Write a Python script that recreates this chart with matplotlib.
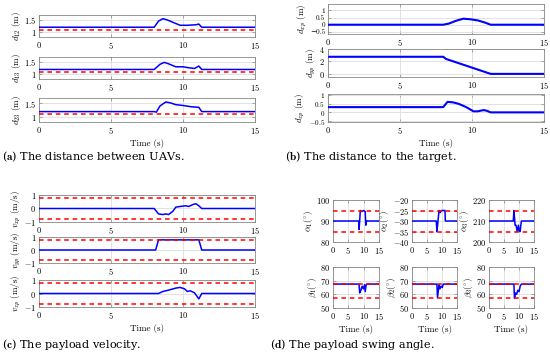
import numpy as np
import matplotlib
matplotlib.use("Agg")
import matplotlib.pyplot as plt
from matplotlib.ticker import FuncFormatter

plt.rcParams['font.family'] = 'serif'
plt.rcParams['font.serif'] = ['cmr10', 'DejaVu Serif']
plt.rcParams['mathtext.fontset'] = 'cm'
plt.rcParams['axes.formatter.use_mathtext'] = True
plt.rcParams['axes.unicode_minus'] = True

# ---- data ----
# (a) distances between UAVs
t_d12 = [0, 8.0, 8.3, 8.6, 8.9, 9.3, 9.8, 10.3, 10.9, 11.1, 11.3, 15]
d12 = [1.2, 1.2, 1.45, 1.55, 1.5, 1.4, 1.28, 1.28, 1.3, 1.33, 1.2, 1.2]
t_d13 = [0, 8.0, 8.4, 8.7, 9.0, 9.5, 10.0, 10.4, 10.8, 11.1, 11.3, 15]
d13 = [1.19, 1.19, 1.4, 1.48, 1.42, 1.3, 1.3, 1.26, 1.23, 1.33, 1.19, 1.19]
t_d23 = [0, 8.0, 8.15, 8.4, 8.8, 9.1, 9.5, 10.0, 10.6, 11.1, 11.3, 15]
d23 = [1.19, 1.19, 1.17, 1.4, 1.55, 1.52, 1.45, 1.42, 1.37, 1.35, 1.19, 1.19]
d_min = 1.1

# (b) distance to the target
t_dxp = [0, 8.0, 8.4, 8.9, 9.4, 9.9, 10.4, 10.9, 11.3, 15]
dxp = [0, 0, 0.08, 0.28, 0.42, 0.38, 0.3, 0.15, 0.0, 0.0]
t_dyp = [0, 8.0, 8.2, 11.3, 15]
dyp = [2.75, 2.75, 2.4, 0.0, 0.0]
t_dzp = [0, 8.0, 8.3, 8.7, 9.1, 9.6, 10.1, 10.4, 10.8, 11.0, 11.3, 15]
dzp = [0.3, 0.3, 0.6, 0.57, 0.48, 0.3, 0.06, 0.06, 0.13, 0.1, 0.0, 0.0]

# (c) payload velocity
t_vxp = [0, 8.0, 8.3, 8.6, 8.8, 9.0, 9.3, 9.5, 9.8, 10.2, 10.4, 10.7, 10.9, 11.1, 11.3, 15]
vxp = [0, 0, -0.4, -0.45, -0.4, -0.45, -0.2, 0.1, 0.15, 0.2, 0.15, 0.3, 0.35, 0.2, 0.0, 0.0]
t_vyp = [0, 8.1, 8.3, 11.1, 11.3, 15]
vyp = [0, 0, 0.78, 0.78, 0.0, 0.0]
t_vzp = [0, 8.3, 8.6, 9.0, 9.5, 9.8, 10.1, 10.3, 10.5, 10.8, 11.1, 11.3, 15]
vzp = [0, 0, 0.15, 0.25, 0.4, 0.45, 0.35, 0.15, 0.2, 0.05, -0.4, 0.0, 0.0]
v_max = 0.75

# (d) payload swing angles
t_a1 = [0, 8.4, 8.5, 8.7, 8.9, 9.5, 10.0, 10.5, 10.7, 10.9, 11.0, 15]
a1 = [90, 90, 86, 90, 95, 94.5, 95, 94.5, 88, 90, 90, 90]
t_a2 = [0, 8.1, 8.3, 8.6, 9.0, 9.4, 9.8, 11.0, 11.1, 15]
a2 = [-30, -30, -35, -31, -25, -26, -25, -25, -30, -30]
t_a3 = [0, 8.1, 8.3, 8.7, 9.0, 9.4, 9.8, 10.1, 10.4, 10.6, 10.8, 15]
a3 = [210, 210, 215, 208, 208, 205, 208, 205, 205, 208, 210, 210]
t_b1 = [0, 8.5, 8.7, 9.1, 9.5, 9.9, 10.3, 10.5, 10.8, 11.0, 15]
b1 = [67.5, 67.5, 61, 63, 66, 64, 67, 62, 67, 67.5, 67.5]
t_b2 = [0, 8.3, 8.5, 9.0, 9.3, 9.7, 10.1, 10.4, 15]
b2 = [67.5, 67.5, 57.5, 67, 64, 66, 65, 67.5, 67.5]
t_b3 = [0, 8.3, 8.5, 8.8, 9.2, 9.6, 10.0, 10.4, 10.8, 15]
b3 = [67.5, 67.5, 57, 61, 60, 63, 62, 66, 67.5, 67.5]
alpha_bounds = [(85, 95), (-35, -25), (205, 215)]
beta_bounds = (57.5, 67.5)

W, H = 550, 358
fig = plt.figure(figsize=(W / 100, H / 100), dpi=100)

# MATLAB-like tick labels: 1 instead of 1.0, proper minus sign
fmt = FuncFormatter(lambda v, _: r'$%g$' % v)
# plain-text variant for the crowded axis (tighter boxes than mathtext)
fmt_plain = FuncFormatter(lambda v, _: ('%g' % v).replace('-', '\u2212'))


def ax_px(x0, y0, x1, y1):
    return fig.add_axes([x0 / W, 1 - y1 / H, (x1 - x0) / W, (y1 - y0) / H])


def style(ax, ylim, yticks, ylabel, ysize=6):
    ax.set_xlim(0, 15)
    ax.set_ylim(*ylim)
    ax.set_xticks([0, 5, 10, 15])
    ax.set_yticks(yticks)
    ax.xaxis.set_major_formatter(fmt)
    ax.yaxis.set_major_formatter(fmt)
    ax.grid(True, color='#dddddd', linewidth=0.6)
    ax.set_axisbelow(True)
    for s in ax.spines.values():
        s.set_color('#888888')
        s.set_linewidth(0.6)
    ax.tick_params(direction='in', length=2, width=0.5, color='#888888',
                   labelsize=6, pad=2, top=True, right=True)
    ax.tick_params(axis='y', labelsize=ysize)
    ax.set_ylabel(ylabel, fontsize=6.5, labelpad=1)


BLUE = '#0000ff'
RED = '#ff0000'


def blue(ax, t, y, lw=1.1):
    ax.plot(t, y, color=BLUE, lw=lw, zorder=3)


def red(ax, y):
    ax.axhline(y, color=RED, lw=1.1, ls=(0, (3, 2.5)), zorder=4)


# (a)
rows_a = [(15, 37), (57, 79), (98, 122)]
series_a = [(t_d12, d12, r'$d_{12}\ (\mathrm{m})$'),
            (t_d13, d13, r'$d_{13}\ (\mathrm{m})$'),
            (t_d23, d23, r'$d_{23}\ (\mathrm{m})$')]
for (y0, y1), (t, y, lab) in zip(rows_a, series_a):
    ax = ax_px(39, y0, 255, y1)
    style(ax, (0.8, 1.7), [1, 1.5], lab)
    blue(ax, t, y)
    red(ax, d_min)
ax.set_xlabel('Time (s)', fontsize=6.5, labelpad=2)

# (b)
rows_b = [(4, 34), (49, 77), (94, 122)]
series_b = [(t_dxp, dxp, r'$d_{xp}\ (\mathrm{m})$', (-0.65, 1.45), [-0.5, 0, 0.5, 1], 5.2),
            (t_dyp, dyp, r'$d_{yp}\ (\mathrm{m})$', (-0.5, 4), [0, 2, 4], 6),
            (t_dzp, dzp, r'$d_{zp}\ (\mathrm{m})$', (-0.55, 1.05), [-0.5, 0, 0.5, 1], 5.2)]
for i, ((y0, y1), (t, y, lab, yl, yt, ys)) in enumerate(zip(rows_b, series_b)):
    ax = ax_px(328, y0, 544, y1)
    style(ax, yl, yt, lab, ysize=ys)
    if i == 0:
        ax.yaxis.set_major_formatter(fmt_plain)
        for tl in ax.get_yticklabels():
            tl.set_family(['cmr10', 'DejaVu Serif'])
    blue(ax, t, y, lw=1.5)
ax.set_xlabel('Time (s)', fontsize=6.5, labelpad=2)

# (c)
rows_c = [(195, 222), (237, 263), (280, 307)]
series_c = [(t_vxp, vxp, r'$v_{xp}\ (\mathrm{m/s})$'),
            (t_vyp, vyp, r'$v_{yp}\ (\mathrm{m/s})$'),
            (t_vzp, vzp, r'$v_{zp}\ (\mathrm{m/s})$')]
for (y0, y1), (t, y, lab) in zip(rows_c, series_c):
    ax = ax_px(39, y0, 255, y1)
    style(ax, (-1, 1), [-1, 0, 1], lab)
    blue(ax, t, y)
    red(ax, v_max)
    red(ax, -v_max)
ax.set_xlabel('Time (s)', fontsize=6.5, labelpad=2)

# (d)
cols_d = [(333, 379), (412, 457), (489, 534)]
alpha_series = [(t_a1, a1, r'$\alpha_1 (^{\circ})$', (80, 100), [80, 90, 100]),
                (t_a2, a2, r'$\alpha_2 (^{\circ})$', (-40, -20), [-40, -35, -30, -25, -20]),
                (t_a3, a3, r'$\alpha_3 (^{\circ})$', (200, 220), [200, 210, 220])]
beta_series = [(t_b1, b1, r'$\beta_1 (^{\circ})$'),
               (t_b2, b2, r'$\beta_2 (^{\circ})$'),
               (t_b3, b3, r'$\beta_3 (^{\circ})$')]
for (x0, x1), (t, y, lab, yl, yt), bnd in zip(cols_d, alpha_series, alpha_bounds):
    ax = ax_px(x0, 200, x1, 242)
    style(ax, yl, yt, lab)
    blue(ax, t, y)
    red(ax, bnd[0])
    red(ax, bnd[1])
for (x0, x1), (t, y, lab) in zip(cols_d, beta_series):
    ax = ax_px(x0, 267, x1, 308)
    style(ax, (50, 80), [50, 60, 70, 80], lab)
    blue(ax, t, y)
    red(ax, beta_bounds[0])
    red(ax, beta_bounds[1])
    ax.set_xlabel('Time (s)', fontsize=6.5, labelpad=2)

# captions
cap = dict(fontsize=8.1, family='DejaVu Serif', va='center', ha='left')
captions = [(2, 157, 'a', 'The distance between UAVs.'),
            (285, 157, 'b', 'The distance to the target.'),
            (2, 345, 'c', 'The payload velocity.'),
            (270, 345, 'd', 'The payload swing angle.')]
for x, y, letter, text in captions:
    fig.text(x / W, 1 - y / H, r'(' + r'$\mathbf{' + letter + r'}$' + ') ' + text, **cap)

fig.savefig('out.png', dpi=100)
